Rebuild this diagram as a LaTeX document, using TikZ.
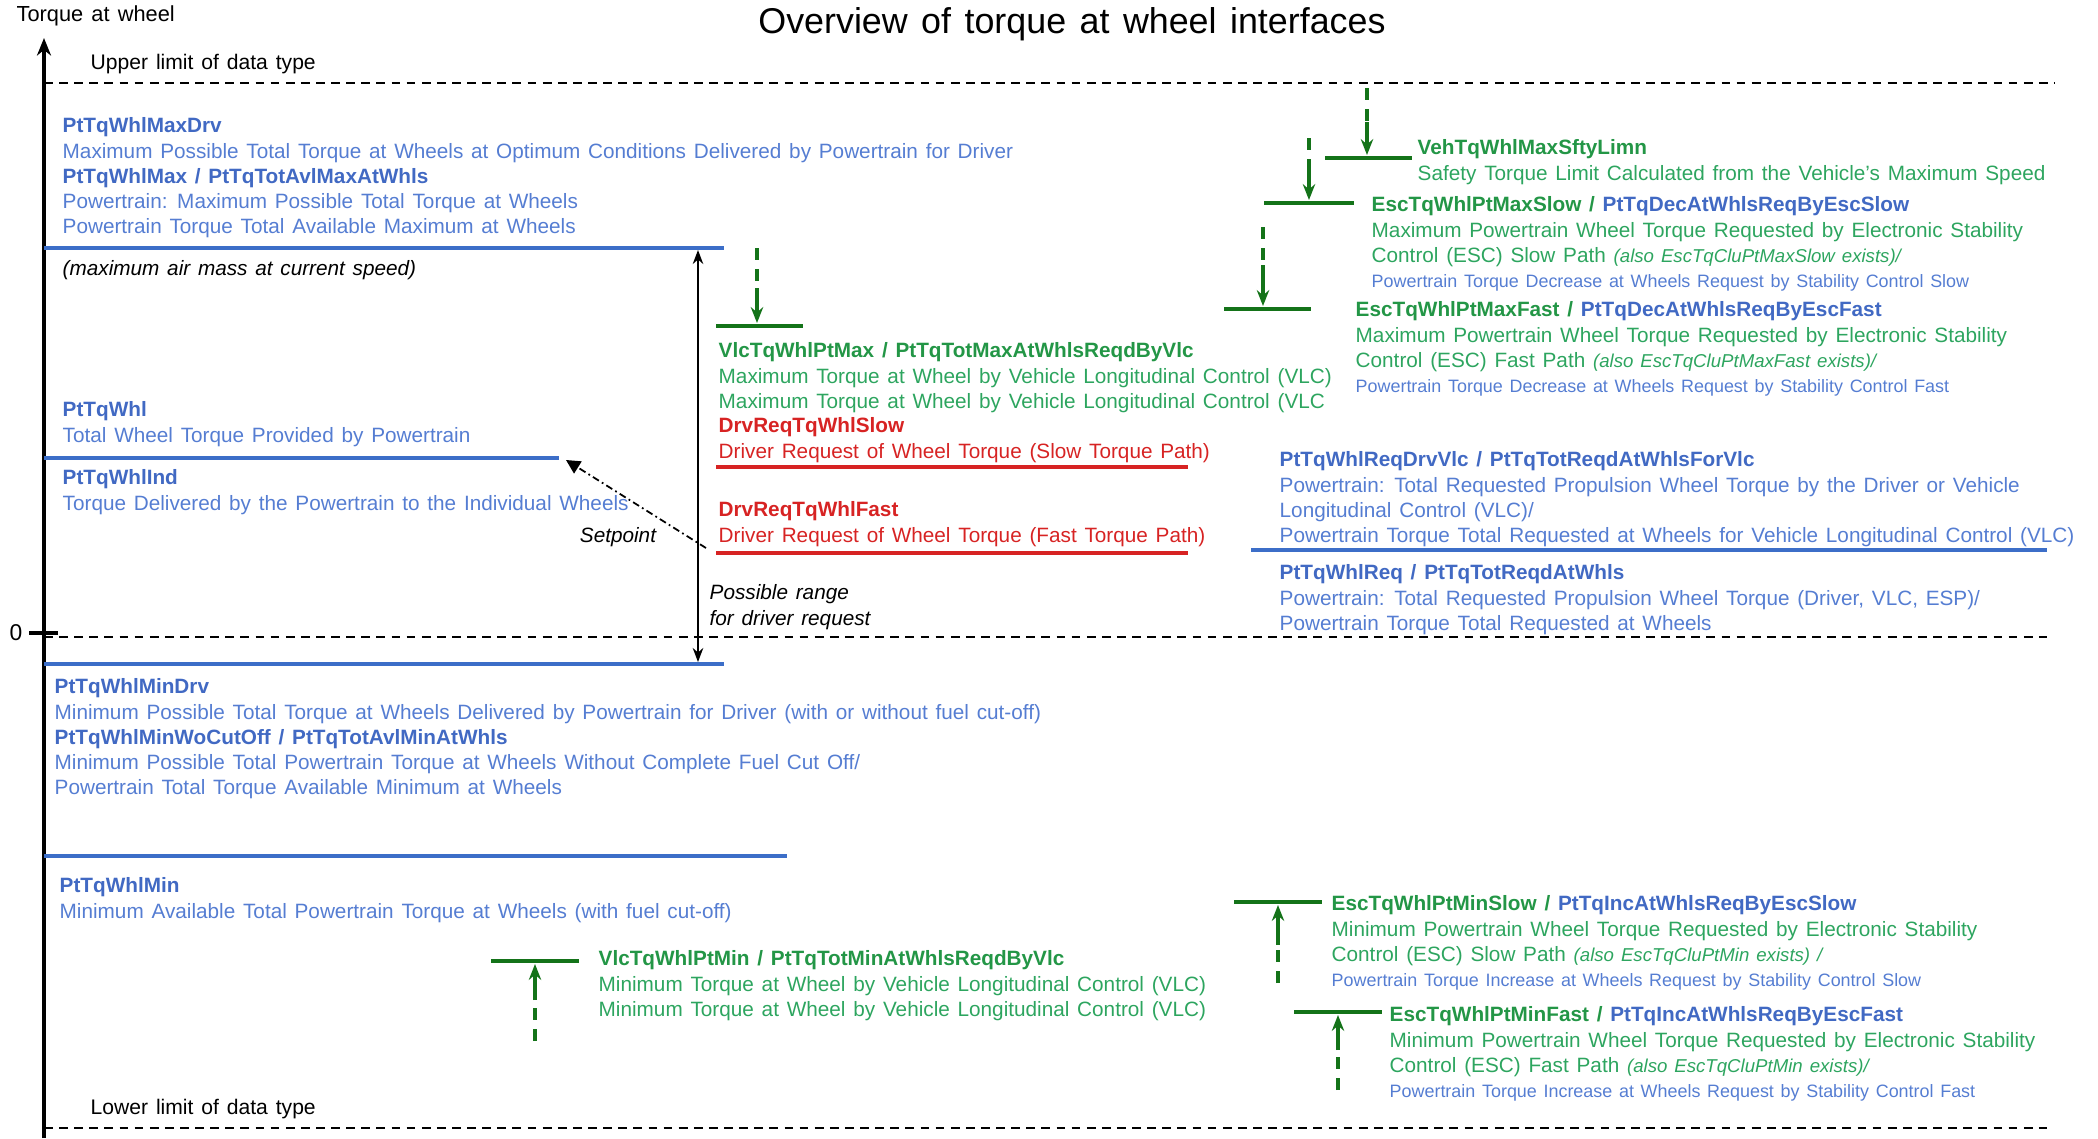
\documentclass[tikz,border=0pt]{standalone}
\usepackage{fontspec}
\setmainfont{Liberation Sans}[WordSpace=1.35]
\usetikzlibrary{arrows.meta}

\definecolor{tqblue}{RGB}{60,110,200}
\definecolor{tqbluetx}{RGB}{85,125,210}
\definecolor{tqbluenm}{RGB}{65,105,195}
\definecolor{tqgreen}{RGB}{45,165,95}
\definecolor{tqgreennm}{RGB}{35,150,70}
\definecolor{tqgreenln}{RGB}{20,115,25}
\definecolor{tqred}{RGB}{215,35,35}

\newcommand{\bnm}[1]{{\bfseries\color{tqbluenm}#1}}
\newcommand{\gnm}[1]{{\bfseries\color{tqgreennm}#1}}
\newcommand{\rnm}[1]{{\bfseries\color{tqred}#1}}
\newcommand{\smtx}[1]{{\fontsize{5.1}{7.2}\selectfont\color{tqbluetx}#1}}
\newcommand{\alsotx}[1]{{\fontsize{5.3}{7.2}\selectfont\itshape #1}}

\tikzset{
  blk/.style={anchor=north west, inner sep=0pt, align=left,
    font=\fontsize{5.9}{7.2}\selectfont, text=tqbluetx},
  gblk/.style={blk, text=tqgreen},
  rblk/.style={blk, text=tqred},
  note/.style={blk, text=black, font=\fontsize{5.9}{7.2}\selectfont\itshape},
  axlabel/.style={anchor=west, inner sep=0pt, font=\fontsize{6}{7.2}\selectfont},
  level/.style={tqblue, line width=1.1pt},
  glevel/.style={tqgreenln, line width=1.3pt},
  rlevel/.style={tqred, line width=1.1pt},
  limit/.style={line width=0.6pt, dash pattern=on 2.5pt off 1.8pt},
  axis/.style={line width=0.9pt, -{Stealth[length=5pt, width=4pt]}},
  drvrange/.style={line width=0.5pt, {Stealth[length=4pt, width=3pt]}-{Stealth[length=4pt, width=3pt]}},
  gdash/.style={tqgreenln, line width=0.9pt, dash pattern=on 3.5pt off 2.5pt},
  garrow/.style={tqgreenln, line width=0.9pt, -{Stealth[length=4.5pt, width=3.5pt]}},
  setp/.style={line width=0.5pt, dash pattern=on 2pt off 1pt on 0.5pt off 1pt, -{Triangle[length=4pt, width=4pt]}}
}

\begin{document}
\begin{tikzpicture}[x=0.1mm, y=-0.1mm]
\useasboundingbox (0,0) rectangle (2098,1138);

% axis, limits and zero
\coordinate (axbot) at (44,1138);
\coordinate (axtop) at (44,38);
\draw[axis] (axbot) -- (axtop);
\node[axlabel, font=\fontsize{6.2}{7.2}\selectfont] (ylabel) at (16,16) {Torque at wheel};
\node[font=\fontsize{10.2}{12}\selectfont, inner sep=0pt] (title) at (1072,24) {Overview of torque at wheel interfaces};
\draw[limit] (44,83) -- (2054,83);
\node[axlabel] (upper) at (90,64) {Upper limit of data type};
\draw[limit] (44,1128) -- (2047,1128);
\node[axlabel] (lower) at (90,1109) {Lower limit of data type};
\draw[line width=0.9pt] (29,633) -- (58,633);
\draw[limit] (44,637) -- (2047,637);
\node[axlabel, font=\fontsize{6.5}{7.2}\selectfont] (zero) at (9,633) {0};

% powertrain levels
\draw[level] (44,248) -- (724,248);
\draw[level] (44,458) -- (559,458);
\draw[level] (44,664) -- (724,664);
\draw[level] (44,856) -- (787,856);
\draw[level] (1251,550) -- (2047,550);

\node[blk] (maxdrv) at (62,117) {\bnm{PtTqWhlMaxDrv}\\
  Maximum Possible Total Torque at Wheels at Optimum Conditions Delivered by Powertrain for Driver\\
  \bnm{PtTqWhlMax / PtTqTotAvlMaxAtWhls}\\
  Powertrain: Maximum Possible Total Torque at Wheels\\
  Powertrain Torque Total Available Maximum at Wheels};
\node[note, anchor=west] (airmass) at (62,270) {(maximum air mass at current speed)};
\node[blk] (whl) at (62,401) {\bnm{PtTqWhl}\\ Total Wheel Torque Provided by Powertrain};
\node[blk] (whlind) at (62,469) {\bnm{PtTqWhlInd}\\ Torque Delivered by the Powertrain to the Individual Wheels};
\node[blk] (mindrv) at (54,678) {\bnm{PtTqWhlMinDrv}\\
  Minimum Possible Total Torque at Wheels Delivered by Powertrain for Driver (with or without fuel cut-off)\\
  \bnm{PtTqWhlMinWoCutOff / PtTqTotAvlMinAtWhls}\\
  Minimum Possible Total Powertrain Torque at Wheels Without Complete Fuel Cut Off/\\
  Powertrain Total Torque Available Minimum at Wheels};
\node[blk] (whlmin) at (59,877) {\bnm{PtTqWhlMin}\\ Minimum Available Total Powertrain Torque at Wheels (with fuel cut-off)};

% driver request range and setpoint
\coordinate (rgtop) at (698,250);
\coordinate (rgbot) at (698,662);
\draw[drvrange] (rgtop) -- (rgbot);
\node[note] (rangetx) at (709,584) {Possible range\\ for driver request};
\coordinate (spfrom) at (706,548);
\coordinate (spto) at (566,460);
\draw[setp] (spfrom) -- (spto);
\node[note, anchor=center] (setpoint) at (618,537) {Setpoint};

\draw[rlevel] (716,467) -- (1188,467);
\draw[rlevel] (716,553) -- (1188,553);
\node[rblk] (drvslow) at (718,417) {\rnm{DrvReqTqWhlSlow}\\ Driver Request of Wheel Torque (Slow Torque Path)};
\node[rblk] (drvfast) at (718,501) {\rnm{DrvReqTqWhlFast}\\ Driver Request of Wheel Torque (Fast Torque Path)};

% vlc limits
\draw[glevel] (716,326) -- (803,326);
\coordinate (vmaxa) at (757,248);
\coordinate (vmaxb) at (757,288);
\coordinate (vmaxc) at (757,323);
\draw[gdash] (vmaxa) -- (vmaxb);
\draw[garrow] (vmaxb) -- (vmaxc);
\node[gblk] (vlcmax) at (718,342) {\gnm{VlcTqWhlPtMax / PtTqTotMaxAtWhlsReqdByVlc}\\
  Maximum Torque at Wheel by Vehicle Longitudinal Control (VLC)\\
  Maximum Torque at Wheel by Vehicle Longitudinal Control (VLC};

\draw[glevel] (491,961) -- (579,961);
\coordinate (vmina) at (535,1041);
\coordinate (vminb) at (535,1000);
\coordinate (vminc) at (535,964);
\draw[gdash] (vmina) -- (vminb);
\draw[garrow] (vminb) -- (vminc);
\node[gblk] (vlcmin) at (598,950) {\gnm{VlcTqWhlPtMin / PtTqTotMinAtWhlsReqdByVlc}\\
  Minimum Torque at Wheel by Vehicle Longitudinal Control (VLC)\\
  Minimum Torque at Wheel by Vehicle Longitudinal Control (VLC)};

% safety and esc limits
\draw[glevel] (1325,158) -- (1412,158);
\coordinate (sfa) at (1367,88);
\coordinate (sfb) at (1367,122);
\coordinate (sfc) at (1367,155);
\draw[gdash] (sfa) -- (sfb);
\draw[garrow] (sfb) -- (sfc);
\node[gblk] (safety) at (1417,139) {\gnm{VehTqWhlMaxSftyLimn}\\
  Safety Torque Limit Calculated from the Vehicle's Maximum Speed};

\draw[glevel] (1264,203) -- (1354,203);
\coordinate (msa) at (1309,138);
\coordinate (msb) at (1309,162);
\coordinate (msc) at (1309,200);
\draw[gdash] (msa) -- (msb);
\draw[garrow] (msb) -- (msc);
\node[gblk] (maxslow) at (1371,196) {\gnm{EscTqWhlPtMaxSlow /} \bnm{PtTqDecAtWhlsReqByEscSlow}\\
  Maximum Powertrain Wheel Torque Requested by Electronic Stability\\
  Control (ESC) Slow Path \alsotx{(also EscTqCluPtMaxSlow exists)/}\\
  \smtx{Powertrain Torque Decrease at Wheels Request by Stability Control Slow}};

\draw[glevel] (1224,309) -- (1311,309);
\coordinate (mfa) at (1263,227);
\coordinate (mfb) at (1263,265);
\coordinate (mfc) at (1263,306);
\draw[gdash] (mfa) -- (mfb);
\draw[garrow] (mfb) -- (mfc);
\node[gblk] (maxfast) at (1355,301) {\gnm{EscTqWhlPtMaxFast /} \bnm{PtTqDecAtWhlsReqByEscFast}\\
  Maximum Powertrain Wheel Torque Requested by Electronic Stability\\
  Control (ESC) Fast Path \alsotx{(also EscTqCluPtMaxFast exists)/}\\
  \smtx{Powertrain Torque Decrease at Wheels Request by Stability Control Fast}};

\node[blk] (reqvlc) at (1279,451) {\bnm{PtTqWhlReqDrvVlc / PtTqTotReqdAtWhlsForVlc}\\
  Powertrain: Total Requested Propulsion Wheel Torque by the Driver or Vehicle\\
  Longitudinal Control (VLC)/\\
  Powertrain Torque Total Requested at Wheels for Vehicle Longitudinal Control (VLC)};
\node[blk] (req) at (1279,564) {\bnm{PtTqWhlReq / PtTqTotReqdAtWhls}\\
  Powertrain: Total Requested Propulsion Wheel Torque (Driver, VLC, ESP)/\\
  Powertrain Torque Total Requested at Wheels};

\draw[glevel] (1234,902) -- (1322,902);
\coordinate (nsa) at (1278,983);
\coordinate (nsb) at (1278,945);
\coordinate (nsc) at (1278,905);
\draw[gdash] (nsa) -- (nsb);
\draw[garrow] (nsb) -- (nsc);
\node[gblk] (minslow) at (1331,895) {\gnm{EscTqWhlPtMinSlow /} \bnm{PtTqIncAtWhlsReqByEscSlow}\\
  Minimum Powertrain Wheel Torque Requested by Electronic Stability\\
  Control (ESC) Slow Path \alsotx{(also EscTqCluPtMin exists) /}\\
  \smtx{Powertrain Torque Increase at Wheels Request by Stability Control Slow}};

\draw[glevel] (1294,1012) -- (1382,1012);
\coordinate (nfa) at (1338,1090);
\coordinate (nfb) at (1338,1050);
\coordinate (nfc) at (1338,1015);
\draw[gdash] (nfa) -- (nfb);
\draw[garrow] (nfb) -- (nfc);
\node[gblk] (minfast) at (1389,1006) {\gnm{EscTqWhlPtMinFast /} \bnm{PtTqIncAtWhlsReqByEscFast}\\
  Minimum Powertrain Wheel Torque Requested by Electronic Stability\\
  Control (ESC) Fast Path \alsotx{(also EscTqCluPtMin exists)/}\\
  \smtx{Powertrain Torque Increase at Wheels Request by Stability Control Fast}};
\end{tikzpicture}
\end{document}
